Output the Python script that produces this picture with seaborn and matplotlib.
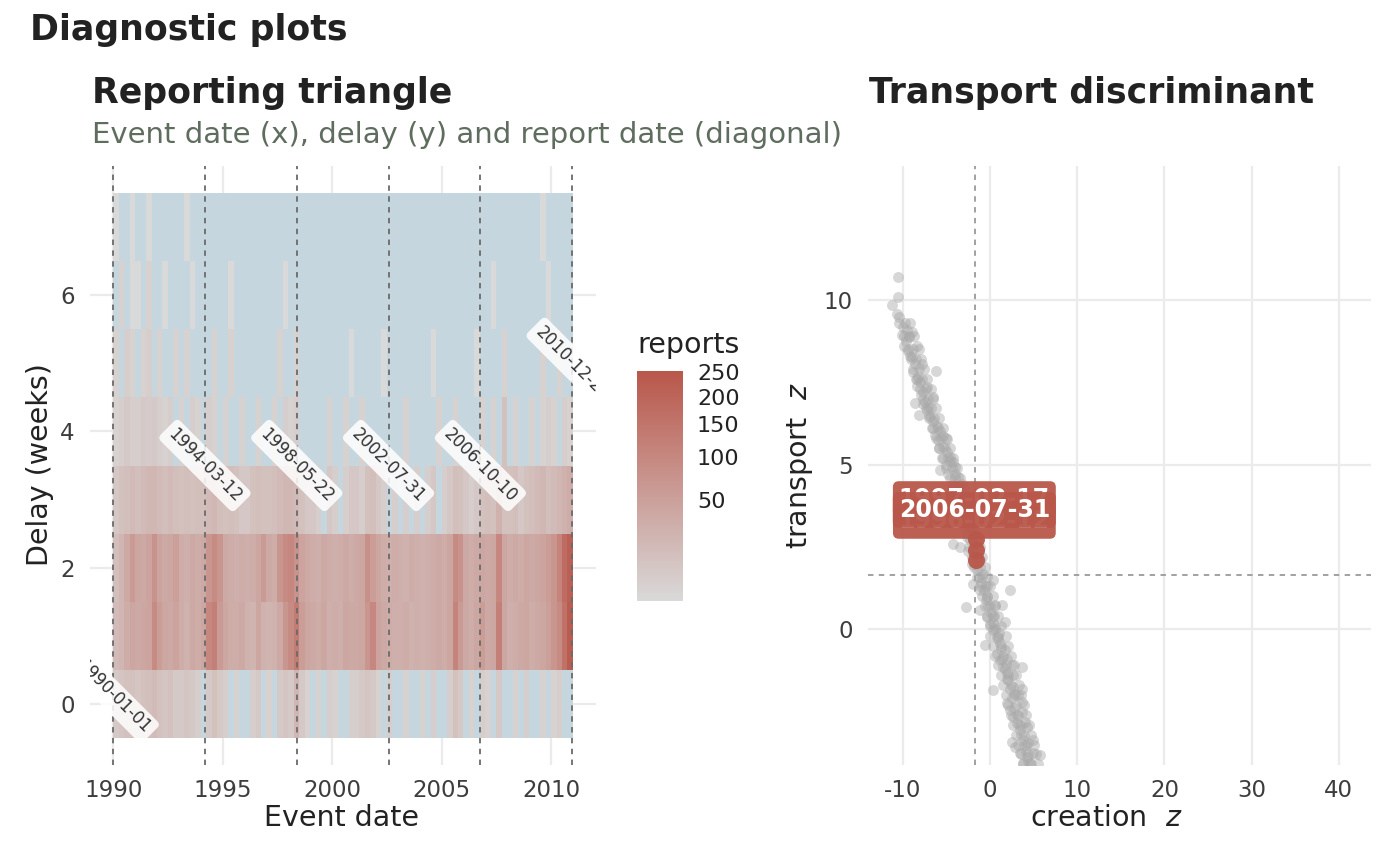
import numpy as np
import pandas as pd
import seaborn as sns
import matplotlib.pyplot as plt
from matplotlib.colors import LinearSegmentedColormap, PowerNorm

# reporting triangle, reports per quarter of event date, one list per delay (weeks)
quarters = pd.period_range("1990Q1", "2010Q4", freq="Q")
delays = [0, 1, 2, 3, 4, 5, 6, 7]
reports_d0 = [5, 8, 10, 10, 8, 10, 12, 15, 10, 8, 10, 5, 5, 8, 5, 3, 0, 5, 10, 5,
              3, 0, 2, 0, 0, 3, 5, 0, 2, 0, 5, 8, 5, 20, 5, 2, 0, 2, 0, 3,
              2, 0, 0, 3, 3, 5, 8, 5, 2, 0, 3, 0, 0, 2, 0, 0, 2, 0, 3, 0,
              0, 3, 10, 5, 0, 2, 0, 3, 2, 0, 5, 0, 0, 2, 0, 3, 0, 0, 2, 0,
              2, 3, 0, 0]
reports_d1 = [15, 20, 30, 40, 35, 40, 45, 90, 55, 40, 35, 45, 30, 25, 35, 30, 40, 100, 120, 60,
              40, 30, 30, 35, 25, 22, 40, 25, 22, 25, 35, 70, 90, 130, 55, 40, 35, 30, 40, 28,
              30, 28, 40, 35, 35, 40, 70, 100, 45, 35, 30, 28, 28, 30, 25, 28, 25, 28, 30, 35,
              30, 40, 110, 60, 35, 30, 40, 55, 35, 40, 120, 40, 28, 30, 35, 40, 30, 35, 40, 50,
              70, 90, 160, 230]
reports_d2 = [12, 20, 35, 60, 40, 35, 45, 75, 45, 35, 40, 50, 30, 28, 35, 30, 35, 70, 90, 70,
              35, 30, 28, 30, 28, 30, 40, 60, 35, 30, 70, 90, 100, 75, 45, 35, 30, 28, 35, 30,
              28, 30, 35, 30, 35, 40, 80, 55, 40, 30, 28, 30, 28, 25, 30, 28, 25, 28, 30, 35,
              30, 40, 90, 75, 35, 30, 35, 40, 35, 40, 100, 40, 30, 35, 30, 40, 35, 40, 45, 55,
              70, 110, 180, 220]
reports_d3 = [6, 10, 12, 15, 12, 15, 18, 18, 15, 12, 15, 12, 10, 12, 10, 12, 12, 15, 18, 12,
              10, 12, 10, 6, 6, 10, 12, 10, 10, 12, 15, 18, 18, 15, 10, 6, 6, 3, 0, 6,
              3, 0, 3, 6, 6, 3, 10, 12, 6, 3, 0, 3, 0, 3, 0, 3, 0, 3, 6, 0,
              3, 6, 12, 10, 6, 3, 6, 10, 12, 10, 25, 10, 10, 12, 6, 10, 12, 15, 18, 12,
              15, 18, 25, 30]
reports_d4 = [2, 3, 5, 3, 3, 5, 4, 5, 3, 2, 3, 0, 2, 0, 3, 2, 0, 3, 2, 0,
              2, 0, 0, 2, 0, 0, 2, 0, 0, 2, 0, 3, 2, 3, 0, 0, 0, 0, 0, 2,
              0, 0, 2, 0, 0, 2, 0, 0, 0, 0, 0, 0, 0, 2, 0, 0, 0, 0, 0, 2,
              0, 0, 2, 0, 0, 0, 0, 2, 0, 2, 0, 10, 0, 2, 0, 0, 2, 0, 2, 3,
              2, 0, 3, 2]
reports_d5 = [2, 0, 3, 2, 0, 2, 3, 0, 2, 0, 0, 2, 0, 2, 0, 0, 0, 0, 2, 0,
              0, 2, 0, 0, 0, 0, 0, 0, 0, 0, 2, 0, 0, 2, 0, 0, 0, 0, 0, 0,
              0, 0, 0, 1, 0, 0, 0, 0, 0, 1, 0, 0, 0, 0, 0, 0, 0, 0, 1, 0,
              0, 0, 0, 0, 0, 0, 1, 0, 0, 0, 0, 2, 0, 0, 0, 0, 0, 0, 2, 0,
              0, 2, 0, 0]
reports_d6 = [0, 2, 0, 1, 1, 0, 2, 0, 0, 1, 0, 0, 0, 0, 1, 0, 0, 0, 0, 0,
              0, 1, 0, 0, 0, 0, 0, 0, 0, 0, 0, 1, 0, 0, 0, 0, 0, 0, 0, 0,
              0, 0, 0, 0, 0, 0, 0, 0, 0, 0, 0, 0, 0, 0, 0, 0, 0, 0, 0, 0,
              0, 0, 0, 0, 0, 0, 0, 0, 0, 1, 0, 0, 0, 0, 0, 0, 0, 0, 0, 1,
              0, 0, 0, 0]
reports_d7 = [1, 0, 0, 1, 0, 0, 1, 0, 0, 0, 0, 0, 0, 1, 0, 0, 0, 0, 0, 0,
              0, 0, 0, 0, 0, 0, 0, 0, 0, 0, 0, 0, 0, 0, 0, 0, 0, 0, 0, 0,
              0, 0, 0, 0, 0, 0, 0, 0, 0, 0, 0, 0, 0, 0, 0, 0, 0, 0, 0, 0,
              0, 0, 0, 0, 0, 0, 0, 0, 0, 0, 0, 0, 0, 0, 0, 0, 0, 0, 1, 0,
              0, 0, 0, 0]
year_ticks = [1990, 1995, 2000, 2005, 2010]
delay_ticks = [0, 2, 4, 6]
report_ticks = [50, 100, 150, 200, 250]

# report-date diagonals
diag_dates = ["1990-01-01", "1994-03-12", "1998-05-22", "2002-07-31", "2006-10-10", "2010-12-20"]
diag_delay = [0.1, 3.5, 3.5, 3.5, 3.5, 5.0]

# transport discriminant: scattered points
creation_z = [-10.6, -10.6, -11.3, -10.7, -10.4, -10.0, -9.55, -8.98, -9.25, -10.1, -9.6, -8.34,
              -9.37, -8.98, -8.6, -7.84, -6.23, -8.22, -8.03, -8.41, -7.26, -7.64, -6.5, -8.6,
              -7.64, -7.07, -7.26, -8.1, -6.88, -6.5, -6.11, -5.73, -5.35, -4.97, -5.93, -5.35,
              -4.97, -4.59, -4.2, -4.01, -4.59, -4.01, -3.63, -5.73, -3.25,
              -9.9, -9.2, -8.8, -8.5, -7.9, -7.5, -7.0, -6.7, -6.3, -5.9, -5.5, -5.1, -4.8,
              -4.4, -4.0, -3.7, -3.4, -3.1, -2.9, -2.6, -2.3, -2.0,
              -3.0, -2.7, -2.4, -2.2, -2.0,
              -4.2, -3.44, -2.48, -2.1, -1.53, -0.77, 0.38, 2.29, -1.91, -1.15, -0.38, -2.75,
              0.57, 1.34, -1.15, -0.38, 0.0, 1.72, 0.38, 0.77, 1.15, -0.57, 1.72, 0.77, 1.15,
              1.53, 3.63, 2.49, 1.91, 2.1, 0.38, 2.68, 2.87, 3.63, 1.91, 2.29, 2.68, 3.63, 3.06,
              3.44, 4.01, 4.2, 2.49, 2.87, 3.82, 4.39, 4.97, 3.44, 4.2, 4.97, 5.73, 3.82, 4.59,
              -1.8, -1.5, -1.3, -1.0, -0.7, -0.5, -0.2, 0.1, 0.3, 0.6, 0.9, 1.2, 1.4, 1.7, 2.0,
              2.3, 2.5, 2.8, 3.1, 3.3, 3.6, 3.9, 4.1, 4.4, -1.2, -0.3, 0.5, 1.0, 1.9, 2.6, 3.2, 3.7]
transport_z = [10.7, 10.07, 9.85, 9.57, 9.49, 9.18, 9.09, 9.01, 8.88, 8.94, 8.74, 8.61,
               8.45, 8.25, 8.05, 8.05, 7.85, 7.65, 7.49, 7.39, 7.34, 7.19, 7.04, 6.87,
               6.84, 6.74, 6.64, 6.5, 6.43, 6.33, 6.18, 6.03, 5.88, 5.78, 5.73, 5.53,
               5.38, 5.22, 5.07, 4.92, 5.12, 4.72, 4.62, 4.82, 4.42,
               8.6, 8.3, 7.8, 7.6, 7.1, 6.9, 6.5, 6.1, 5.9, 5.5, 5.2, 5.0, 4.7,
               4.4, 4.2, 4.0, 3.8, 3.5, 3.2, 2.9, 2.7, 2.4,
               4.1, 3.8, 3.4, 3.1, 2.8,
               2.6, 2.49, 2.39, 1.99, 1.79, 1.69, 1.48, 1.18, 1.38, 1.18, 0.98, 0.68,
               0.73, 0.73, 0.58, 0.37, 0.17, 0.22, -0.03, -0.23, -0.43, -0.48, -0.64, -0.74, -0.94,
               -1.14, -1.14, -1.09, -1.34, -1.55, -1.85, -1.75, -1.95, -1.8, -2.25, -2.45, -2.66, -2.2, -2.86,
               -3.06, -2.81, -2.96, -3.41, -3.56, -3.36, -3.46, -3.36, -3.77, -3.87, -3.77, -3.82, -4.07, -4.07,
               2.2, 2.0, 1.6, 1.4, 1.2, 0.9, 0.7, 0.5, 0.2, 0.0, -0.3, -0.6, -0.9, -1.2, -1.5,
               -1.8, -2.1, -2.4, -2.6, -2.9, -3.2, -3.5, -3.7, -4.0, 2.1, 1.3, 0.4, -0.1, -0.9, -1.4, -2.0, -2.5]
# transport discriminant: dense core of the band (left edge, middle, right edge per level)
core_transport = [9.3, 8.9, 8.5, 8.2, 7.9, 7.6, 7.3, 7.0, 6.7, 6.4, 6.1, 5.8, 5.5, 5.2, 4.9,
                  4.6, 4.3, 4.0, 3.7, 3.4, 3.1, 2.8, 2.5, 2.2, 1.9, 1.6, 1.3, 1.0, 0.7, 0.4,
                  0.1, -0.2, -0.5, -0.8, -1.1, -1.4, -1.7, -2.0, -2.3, -2.6, -2.9, -3.2, -3.5, -3.8, -4.1]
core_left = [-10.4, -9.9, -9.4, -9.1, -8.8, -8.4, -8.0, -7.7, -7.35, -7.0, -6.6, -6.2, -5.8, -5.4, -5.0,
             -4.6, -4.2, -3.9, -3.6, -3.3, -3.0, -2.7, -2.4, -2.1, -1.8, -1.5, -1.2, -0.9, -0.6, -0.3,
             0.0, 0.0, 0.3, 0.6, 0.9, 1.2, 1.5, 1.8, 2.1, 2.35, 2.65, 2.95, 3.25, 3.5, 3.75]
core_mid = [-9.8, -9.3, -8.8, -8.5, -8.2, -7.8, -7.4, -7.1, -6.75, -6.4, -6.0, -5.6, -5.2, -4.8, -4.4,
            -4.0, -3.6, -3.3, -3.0, -2.7, -2.4, -2.1, -1.8, -1.5, -1.2, -0.9, -0.6, -0.3, 0.0, 0.3,
            0.6, 0.9, 1.2, 1.5, 1.8, 2.1, 2.4, 2.7, 3.0, 3.25, 3.55, 3.85, 4.15, 4.4, 4.65]
core_right = [-9.2, -8.7, -8.2, -7.9, -7.6, -7.2, -6.8, -6.5, -6.15, -5.8, -5.4, -5.0, -4.6, -4.2, -3.8,
              -3.4, -3.0, -2.7, -2.4, -2.1, -1.8, -1.5, -1.2, -0.9, -0.6, -0.3, 0.0, 0.3, 0.6, 0.9,
              1.2, 1.8, 2.1, 2.4, 2.7, 3.0, 3.3, 3.6, 3.9, 4.15, 4.45, 4.75, 5.05, 5.3, 5.55]
flag_dates = ["1997-02-17", "1996-02-12", "2006-07-31"]
flag_creation = [-1.65, -1.65, -1.65]
flag_transport = [2.75, 2.09, 2.42]
cut_creation = -1.72
cut_transport = 1.64

RED = "#b9574b"
TXT = "#222222"
TICK = "#3d3d3d"
GRID = "#ebebeb"

sns.set_theme(style="white")
plt.rcParams["font.family"] = ["DejaVu Sans"]
plt.rcParams["axes.unicode_minus"] = False


def dec_year(s):
    t = pd.Timestamp(s)
    return t.year + (t.dayofyear - 1) / (366 if t.is_leap_year else 365)


def qx(year):
    # heatmap columns are quarters starting 1990
    return (year - 1990) * 4


W, H = 1400, 866
fig = plt.figure(figsize=(W / 100, H / 100), dpi=100)
top, bot = 166, 765
ax1 = fig.add_axes([90 / W, 1 - bot / H, (595.5 - 90) / W, (bot - top) / H])
cax = fig.add_axes([637 / W, 1 - 601 / H, 46 / W, 230 / H])
ax2 = fig.add_axes([868 / W, 1 - bot / H, (1371 - 868) / W, (bot - top) / H])

# --- reporting triangle ---
tri = pd.DataFrame([reports_d0, reports_d1, reports_d2, reports_d3,
                    reports_d4, reports_d5, reports_d6, reports_d7],
                   index=delays, columns=quarters.astype(str)).astype(float)
tri = tri.replace(0, np.nan)
cmap = LinearSegmentedColormap.from_list("reports", ["#d9d9d9", RED])
cmap.set_bad("#c5d6df")
sns.heatmap(tri, ax=ax1, cmap=cmap, norm=PowerNorm(0.5, vmin=1, vmax=253),
            cbar_ax=cax, xticklabels=False, yticklabels=False,
            cbar_kws={"ticks": report_ticks})
ax1.set_xlim(qx(1988.94), qx(2012.03))
ax1.set_ylim(-0.4, 8.4)
ax1.set_xticks([qx(y) for y in year_ticks])
ax1.set_xticklabels([str(y) for y in year_ticks], rotation=0)
ax1.set_yticks([d + 0.5 for d in delay_ticks])
ax1.set_yticklabels([str(d) for d in delay_ticks], rotation=0)
ax1.set_xlabel("")
ax1.set_ylabel("")
ax1.grid(True, color=GRID, lw=1.6)
ax1.set_axisbelow(True)

for s, dl in zip(diag_dates, diag_delay):
    xv = qx(dec_year(s))
    ax1.axvline(xv, color="#6a6a6a", lw=1.3, ls=(0, (3, 3)), zorder=3)
    ax1.text(xv, dl + 0.5, s, rotation=-45, rotation_mode="anchor", ha="center", va="center",
             fontsize=12, color="#333333", clip_on=True, zorder=4,
             bbox=dict(boxstyle="round,pad=0.3", fc="white", ec="none", alpha=0.85))

cbar = ax1.collections[0].colorbar
cbar.outline.set_visible(False)
cax.minorticks_off()
cax.tick_params(axis="y", which="both", direction="in", color="white", length=6, width=1.2,
                left=True, right=True, labelleft=False, labelright=True,
                labelcolor=TXT, labelsize=16, pad=10)

# --- transport discriminant ---
ax2.axvline(cut_creation, color="#9a9a9a", lw=1.3, ls=(0, (3, 3)), zorder=1)
ax2.axhline(cut_transport, color="#9a9a9a", lw=1.3, ls=(0, (3, 3)), zorder=1)
pts = pd.DataFrame({"creation": creation_z + core_left + core_mid + core_right,
                    "transport": transport_z + core_transport * 3})
sns.scatterplot(data=pts, x="creation", y="transport", ax=ax2, color="#a8a8a8", alpha=0.45,
                s=62, linewidth=0, zorder=2)
sns.scatterplot(x=flag_creation, y=flag_transport, ax=ax2, color=RED, alpha=0.95,
                s=150, linewidth=0, zorder=3)
for lab, xv, yv in zip(flag_dates, flag_creation, flag_transport):
    ax2.text(xv - 0.15, yv + 1.2, lab, ha="center", va="center", fontsize=17,
             fontweight="bold", color="white", zorder=4,
             bbox=dict(boxstyle="round,pad=0.25", fc=RED, ec="none", alpha=0.95))
ax2.set_xlim(-14, 43.7)
ax2.set_ylim(-4.12, 14.06)
ax2.set_xticks([-10, 0, 10, 20, 30, 40])
ax2.set_yticks([0, 5, 10])
ax2.set_xlabel("")
ax2.set_ylabel("")
ax2.grid(True, color=GRID, lw=1.6)
ax2.set_axisbelow(True)

for ax in (ax1, ax2):
    sns.despine(ax=ax, left=True, bottom=True)
    ax.tick_params(length=0, labelsize=16.5, labelcolor=TICK)
    ax.tick_params(axis="y", pad=11)
    ax.tick_params(axis="x", pad=10)

# --- titles and axis labels ---
fig.text(30 / W, 1 - 30 / H, "Diagnostic plots", fontsize=25, fontweight="bold",
         color=TXT, va="center")
fig.text(92 / W, 1 - 93 / H, "Reporting triangle", fontsize=25, fontweight="bold",
         color=TXT, va="center")
fig.text(92 / W, 1 - 135 / H, "Event date (x), delay (y) and report date (diagonal)",
         fontsize=21, color="#5f6d5f", va="center")
fig.text(869 / W, 1 - 93 / H, "Transport discriminant", fontsize=25, fontweight="bold",
         color=TXT, va="center")
fig.text(637 / W, 1 - 345 / H, "reports", fontsize=20.5, color=TXT, va="center")

fig.text(40 / W, 1 - 465 / H, "Delay (weeks)", fontsize=20.5, color=TXT,
         rotation=90, ha="center", va="center")
fig.text(342 / W, 1 - 818 / H, "Event date", fontsize=20.5, color=TXT,
         ha="center", va="center")
fig.text(800 / W, 1 - 465 / H, "transport  $z$", fontsize=20.5, color=TXT,
         rotation=90, ha="center", va="center")
fig.text(1106 / W, 1 - 818 / H, "creation  $z$", fontsize=20.5, color=TXT,
         ha="center", va="center")

fig.savefig("out.png", dpi=100)
